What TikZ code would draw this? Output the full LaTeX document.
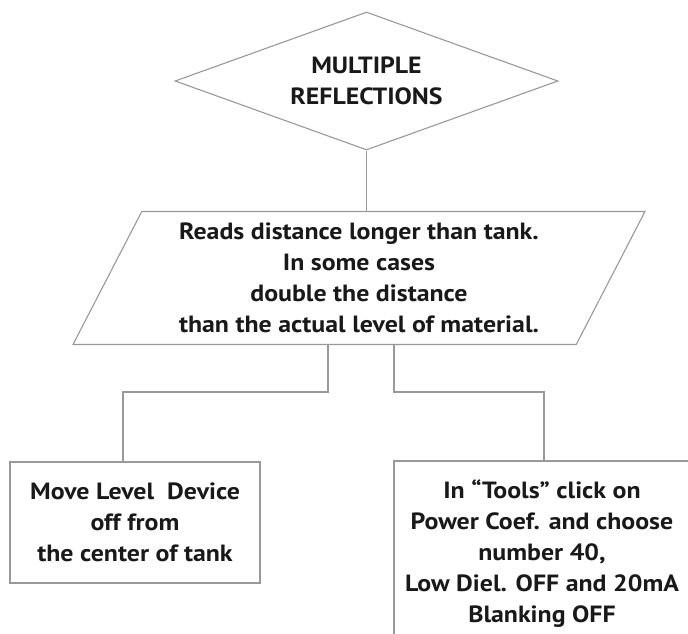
\documentclass[tikz,border=0pt]{standalone}
\usepackage{fontspec}
\setmainfont{PT Sans}[FakeStretch=1.1]
\usetikzlibrary{shapes,calc}
\tikzstyle{decision}=[diamond,draw=black!40,line width=1.1pt,aspect=2.8,minimum width=383pt,minimum height=138pt,inner sep=0pt,align=center]
\tikzstyle{io}=[trapezium,trapezium left angle=58,trapezium right angle=122,trapezium stretches body,draw=black!40,line width=1.1pt,minimum width=572pt,minimum height=133pt,inner sep=0pt,align=center]
\tikzstyle{action}=[rectangle,draw=black!40,line width=1.1pt,inner sep=0pt,align=center]
\tikzstyle{link}=[draw=black!40,line width=1.1pt]
\tikzstyle{txt}=[font=\fontsize{23.5}{31}\selectfont\bfseries,text=black!90]

\begin{document}
\begin{tikzpicture}[x=1pt,y=-1pt]
    \clip (0,0) rectangle (688,634);
    % First we draw the shapes
    \node[decision,txt] (mr) at (366.5,81) {MULTIPLE\\REFLECTIONS};
    \node[io,txt] (rd) at (359,278) {Reads distance longer than tank.\\In some cases\\double the distance\\than the actual level of material.};
    \node[action,txt,minimum width=250pt,minimum height=121pt] (mv) at (135,522.5) {Move Level~ Device\\off from\\the center of tank};
    \node[action,txt,minimum width=296pt,minimum height=185pt] (tl) at (542,553.5) {In “Tools” click on\\Power Coef. and choose\\number 40,\\Low Diel. OFF and 20mA\\Blanking OFF};

    % Connect shapes with lines
    \coordinate (lk) at (328,392);
    \coordinate (lb) at (123,392);
    \coordinate (rk) at (394,392);
    \coordinate (rb) at (544,392);
    \path[link] (mr.south) -- (mr.south |- rd.north);
    \path[link] (rd.south -| lk) -- (lk) -- (lb) -- (lb |- mv.north);
    \path[link] (rd.south -| rk) -- (rk) -- (rb) -- (rb |- tl.north);
\end{tikzpicture}
\end{document}
